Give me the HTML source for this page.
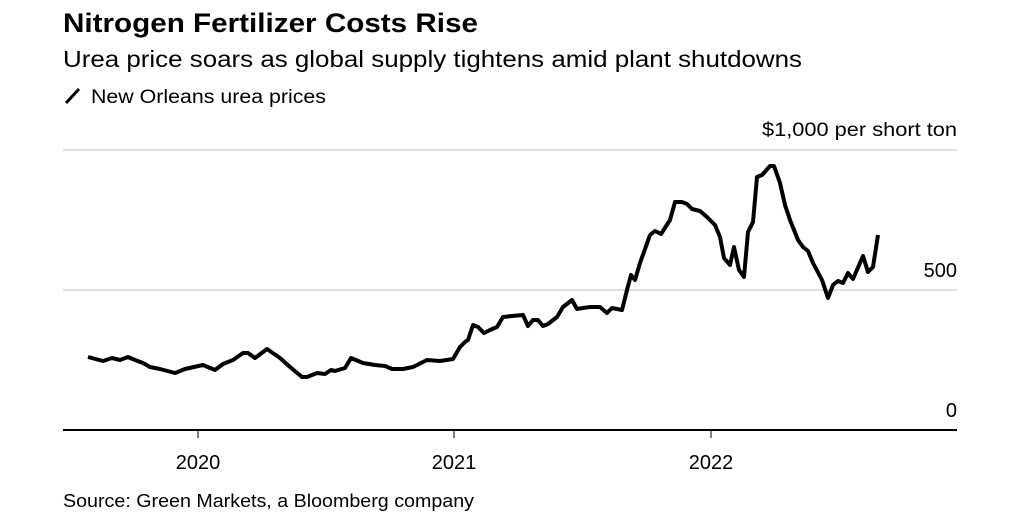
<!DOCTYPE html>
<html><head><meta charset="utf-8"><style>
body{margin:0;background:#fff;width:1024px;height:522px;overflow:hidden;font-family:"Liberation Sans",sans-serif;color:#000}
</style></head><body>
<svg width="1024" height="522" xmlns="http://www.w3.org/2000/svg" font-family="Liberation Sans, sans-serif">
<text x="63" y="32" font-size="27" font-weight="bold" textLength="415" lengthAdjust="spacingAndGlyphs">Nitrogen Fertilizer Costs Rise</text>
<text x="63" y="67" font-size="23" textLength="739" lengthAdjust="spacingAndGlyphs">Urea price soars as global supply tightens amid plant shutdowns</text>
<line x1="66" y1="103" x2="79" y2="89" stroke="#000" stroke-width="3"/>
<text x="91" y="103" font-size="19" textLength="235" lengthAdjust="spacingAndGlyphs">New Orleans urea prices</text>
<text x="762" y="136" font-size="19" textLength="195" lengthAdjust="spacingAndGlyphs">$1,000 per short ton</text>
<line x1="63" y1="150" x2="957" y2="150" stroke="#e0e0e0" stroke-width="2"/>
<line x1="63" y1="290" x2="957" y2="290" stroke="#e0e0e0" stroke-width="2"/>
<text x="957" y="277" font-size="20" text-anchor="end">500</text>
<text x="957" y="417" font-size="20" text-anchor="end">0</text>
<line x1="63" y1="430" x2="957" y2="430" stroke="#000" stroke-width="2"/>
<g stroke="#000" stroke-width="1"><line x1="198" y1="430" x2="198" y2="438"/><line x1="454" y1="430" x2="454" y2="438"/><line x1="711" y1="430" x2="711" y2="438"/></g>
<g font-size="20" text-anchor="middle"><text x="198" y="469">2020</text><text x="454" y="469">2021</text><text x="711" y="469">2022</text></g>
<text x="63" y="507" font-size="18" textLength="411" lengthAdjust="spacingAndGlyphs">Source: Green Markets, a Bloomberg company</text>
<polyline fill="none" stroke="#000" stroke-width="4" stroke-linejoin="round" points="88,357 103,361 112,358 120,360 128,357 135,360 143,363 150,367 160,369 175,373 185,369 203,365 215,370 223,364 233,360 243,353 248,353 255,358 267,349 280,358 290,367 302,377 307,377 317,373 325,374 331,370 335,371 345,368 351,358 363,363 375,365 385,366 392,369 403,369 413,367 427,360 440,361 453,359 460,347 465,342 468,340 473,325 478,327 484,333 490,330 497,327 503,317 512,316 523,315 528,326 533,320 538,320 543,326 548,324 557,317 563,307 572,300 577,309 583,308 590,307 600,307 607,313 612,308 622,310 627,290 631,275 635,280 640,263 650,235 655,231 661,234 670,220 675,202 682,202 687,204 692,209 700,211 707,217 715,225 720,237 724,258 730,265 734,247 739,270 744,277 748,232 753,222 757,177 762,175 770,166 774,166 780,183 785,205 790,220 798,240 803,247 808,251 813,263 822,280 828,298 833,285 838,281 843,283 848,273 853,279 863,256 868,272 873,267 878,235"/>
</svg>
</body></html>
